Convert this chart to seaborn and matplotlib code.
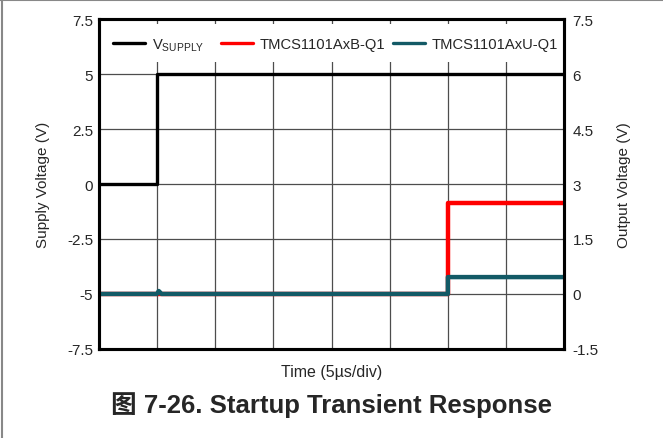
import numpy as np
import pandas as pd
import seaborn as sns
import matplotlib.pyplot as plt
from matplotlib.lines import Line2D
from matplotlib.patches import Rectangle

# time axis in divisions (5 us/div), 8 divisions shown
supply_t = [0, 1, 1, 8]
supply_v = [0, 0, 5, 5]

# output voltages on the right axis
outB_t = [0, 6, 6, 8]
outB_v = [0, 0, 2.48, 2.48]
outU_t = [0, 1, 1.03, 1.08, 6, 6, 8]
outU_v = [0, 0, 0.08, 0, 0, 0.46, 0.46]

left_ticks = [-7.5, -5, -2.5, 0, 2.5, 5, 7.5]
left_labels = ['-7.5', '-5', '-2.5', '0', '2.5', '5', '7.5']
right_ticks = [-1.5, 0, 1.5, 3, 4.5, 6, 7.5]
right_labels = ['-1.5', '0', '1.5', '3', '4.5', '6', '7.5']

sns.set_style('white')
plt.rcParams['font.family'] = ['Liberation Sans', 'Noto Sans CJK SC', 'DejaVu Sans']
plt.rcParams['axes.unicode_minus'] = False

fig = plt.figure(figsize=(6.63, 4.39), dpi=100)
ax = fig.add_axes([0.149, 0.203, 0.702, 0.751])

df_s = pd.DataFrame({'t': supply_t, 'v': supply_v})
sns.lineplot(data=df_s, x='t', y='v', ax=ax, color='black', lw=2.4,
             estimator=None, label='V$_{\\mathregular{SUPPLY}}$', legend=False)
ax.set_xlim(0, 8)
ax.set_ylim(-7.5, 7.5)
ax.set_xticks(range(9))
ax.set_xticklabels([])
ax.set_yticks(left_ticks)
ax.set_yticklabels(left_labels)
ax.tick_params(length=0, labelsize=11, pad=4)
ax.grid(True, color='#4d4d4d', lw=0.9)
ax.set_axisbelow(True)
ax.set_xlabel('Time (5µs/div)', fontsize=11.5, labelpad=7)
ax.set_ylabel('Supply Voltage (V)', fontsize=11, labelpad=12)

# white band behind legend
ax.add_patch(Rectangle((0, 0.87), 1, 0.115, transform=ax.transAxes,
                       facecolor='white', edgecolor='none', zorder=1))

ax2 = ax.twinx()
df_b = pd.DataFrame({'t': outB_t, 'v': outB_v})
df_u = pd.DataFrame({'t': outU_t, 'v': outU_v})
sns.lineplot(data=df_b, x='t', y='v', ax=ax2, color='#ff0000', lw=3.2,
             estimator=None, sort=False, label='TMCS1101AxB-Q1', legend=False)
sns.lineplot(data=df_u, x='t', y='v', ax=ax2, color='#135a66', lw=3.2,
             estimator=None, sort=False, label='TMCS1101AxU-Q1', legend=False)
ax2.set_ylim(-1.5, 7.5)
ax2.set_yticks(right_ticks)
ax2.set_yticklabels(right_labels)
ax2.tick_params(length=0, labelsize=11, pad=6)
ax2.set_ylabel('Output Voltage (V)', fontsize=11, labelpad=13)
ax2.grid(False)

for a in (ax, ax2):
    for s in a.spines.values():
        s.set_linewidth(2.2)
        s.set_color('black')

handles = [Line2D([], [], color='black', lw=2.4),
           Line2D([], [], color='#ff0000', lw=2.4),
           Line2D([], [], color='#135a66', lw=2.4)]
labels = ['V$_{\\mathregular{SUPPLY}}$   ', 'TMCS1101AxB-Q1', 'TMCS1101AxU-Q1']
ax2.legend(handles, labels, loc='upper left', bbox_to_anchor=(0.03, 0.948),
           ncol=3, frameon=False, fontsize=10.6, handlelength=2.2,
           handletextpad=0.45, columnspacing=0.5, borderpad=0, borderaxespad=0)

fig.text(0.5, 0.077, '图 7-26. Startup Transient Response', ha='center',
         va='center', fontsize=18.5, weight='bold')

# frame lines at top and left edges of the figure
fig.add_artist(Line2D([0.003, 0.003], [0, 1], color='#888888', lw=1.5))
fig.add_artist(Line2D([0, 1], [0.997, 0.997], color='#888888', lw=1.5))

fig.savefig('out.png', dpi=100)
